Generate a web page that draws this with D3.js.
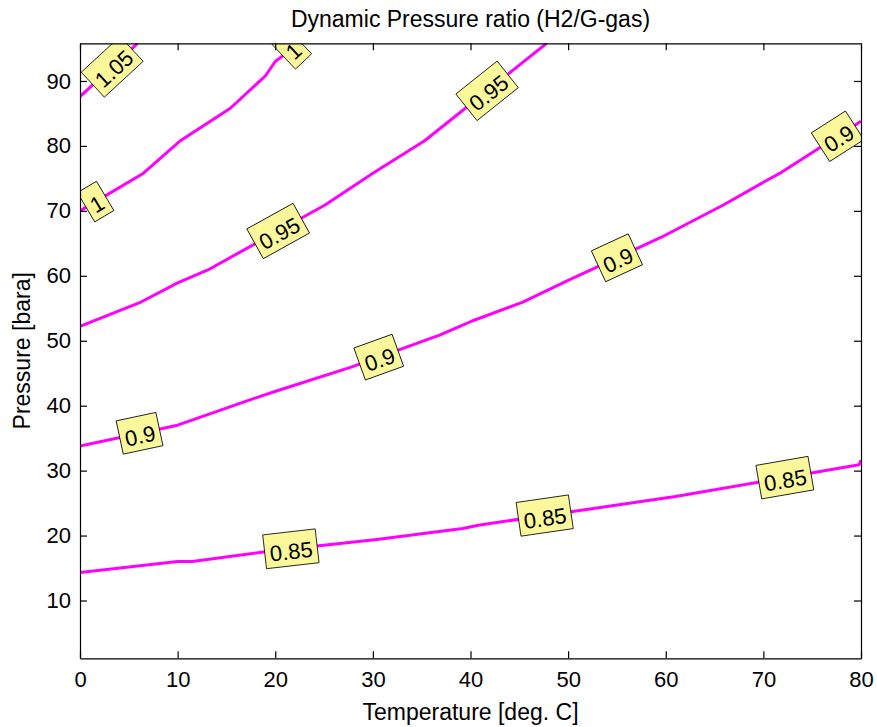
<!DOCTYPE html>
<html>
<head>
<meta charset="utf-8">
<script src="https://cdn.jsdelivr.net/npm/d3@7"></script>
<style>
  html, body { margin: 0; padding: 0; background: #fff; }
  svg { display: block; font-family: "Liberation Sans", Arial, sans-serif; }
</style>
</head>
<body>
<svg id="chart" width="877" height="727"></svg>
<script>
// ---- data ----
const titleText = "Dynamic Pressure ratio (H2/G-gas)";
const xLabelText = "Temperature [deg. C]";
const yLabelText = "Pressure [bara]";

const xTicks = [0, 10, 20, 30, 40, 50, 60, 70, 80];
const yTicks = [10, 20, 30, 40, 50, 60, 70, 80, 90];
const xDomain = [0, 80];
const yDomain = [1.1, 95.8];

const levels = [0.85, 0.9, 0.95, 1, 1.05];
const levelNames = ["0.85", "0.9", "0.95", "1", "1.05"];

const t085 = [0, 10, 11.5, 20, 30.4, 39.2, 40.8, 61.0, 79.8, 80];
const p085 = [14.3, 16.0, 16.0, 17.7, 19.4, 21.1, 21.6, 26.0, 30.9, 31.6];

const t090 = [0, 10, 17.4, 20.2, 27.7, 36.9, 38.9, 40.1, 45.3, 50.0, 59.5, 65.9, 70.0, 71.7, 80];
const p090 = [33.8, 37.0, 40.9, 42.3, 45.9, 50.9, 52.2, 53.0, 55.9, 59.3, 65.9, 70.9, 74.4, 75.8, 83.8];

const t095 = [0, 6.3, 10, 13.1, 25.1, 30.0, 35.3, 47.8];
const p095 = [52.2, 56.0, 58.9, 60.9, 70.9, 75.8, 80.8, 95.8];

const t100 = [0, 6.5, 10.2, 15.4, 19.0, 20.0, 22.5];
const p100 = [70.0, 75.8, 80.7, 85.8, 90.8, 93.0, 95.8];

const t105 = [0, 5.9];
const p105 = [87.6, 95.8];

// temperatures at which the contour labels sit
const lab085 = [21.6, 47.6, 72.2];
const lab090 = [6.1, 30.6, 55.0, 77.6];
const lab095 = [20.3, 41.7];
const lab100 = [1.6, 21.7];
const lab105 = [3.3];

const lineT = [t085, t090, t095, t100, t105];
const lineP = [p085, p090, p095, p100, p105];
const labelT = [lab085, lab090, lab095, lab100, lab105];

// ---- layout ----
const svg = d3.select("#chart");
const mLeft = 80, mRight = 861, mTop = 43.3, mBottom = 658.3;
const x = d3.scaleLinear().domain(xDomain).range([mLeft, mRight]);
const y = d3.scaleLinear().domain(yDomain).range([mBottom, mTop]);

const tickFont = 22, clabelFont = 22, labelFont = 23;

svg.append("defs").append("clipPath").attr("id", "plotclip")
  .append("rect").attr("x", mLeft).attr("y", mTop)
  .attr("width", mRight - mLeft).attr("height", mBottom - mTop);

svg.append("rect").attr("x", mLeft).attr("y", mTop)
  .attr("width", mRight - mLeft).attr("height", mBottom - mTop).attr("fill", "#fff");

const plot = svg.append("g").attr("clip-path", "url(#plotclip)");

function interp(ts, ps, t) {
  if (t <= ts[0]) return ps[0];
  for (let i = 1; i < ts.length; i++) {
    if (t <= ts[i]) {
      const f = (t - ts[i - 1]) / (ts[i] - ts[i - 1]);
      return ps[i - 1] + f * (ps[i] - ps[i - 1]);
    }
  }
  return ps[ps.length - 1];
}

const line = d3.line().x(d => x(d[0])).y(d => y(d[1]));

lineT.forEach((ts, k) => {
  const pts = ts.map((t, i) => [t, lineP[k][i]]);
  plot.append("path").datum(pts)
    .attr("d", line)
    .attr("fill", "none")
    .attr("stroke", "#ff00ff")
    .attr("stroke-width", 3)
    .attr("stroke-linejoin", "round");
});

// contour labels
const labelsG = plot.append("g");
lineT.forEach((ts, k) => {
  const ps = lineP[k];
  labelT[k].forEach(t => {
    const p = interp(ts, ps, t);
    const cx = x(t), cy = y(p);
    const t0 = Math.max(ts[0], t - 3), t1 = Math.min(ts[ts.length - 1], t + 3);
    const dx = x(t1) - x(t0), dy = y(interp(ts, ps, t1)) - y(interp(ts, ps, t0));
    const ang = Math.atan2(dy, dx) * 180 / Math.PI;
    const g = labelsG.append("g").attr("transform", `translate(${cx},${cy}) rotate(${ang})`);
    const txt = g.append("text")
      .attr("text-anchor", "middle")
      .attr("y", 2.5)
      .attr("dy", "0.36em")
      .attr("font-size", clabelFont)
      .attr("fill", "#000")
      .text(levelNames[k]);
    const w = txt.node().getComputedTextLength();
    const padX = 5, h = 34;
    g.insert("rect", "text")
      .attr("x", -w / 2 - padX).attr("y", -h / 2)
      .attr("width", w + 2 * padX).attr("height", h)
      .attr("fill", "#fbf89c")
      .attr("stroke", "#000")
      .attr("stroke-width", 0.8);
  });
});

// axes
const tickLen = 7;
function styleAxis(g) {
  g.selectAll("path.domain").attr("stroke", "#000").attr("stroke-width", 1.2);
  g.selectAll(".tick line").attr("stroke", "#000").attr("stroke-width", 1.2);
  g.selectAll(".tick text").attr("fill", "#000").attr("font-size", tickFont)
    .attr("font-family", "'Liberation Sans', Arial, sans-serif");
}

svg.append("g").attr("transform", `translate(0,${mBottom})`)
  .call(d3.axisBottom(x).tickValues(xTicks).tickSizeInner(-tickLen).tickSizeOuter(0).tickPadding(13).tickFormat(d3.format("d")))
  .call(styleAxis);
svg.append("g").attr("transform", `translate(0,${mTop})`)
  .call(d3.axisTop(x).tickValues(xTicks).tickSizeInner(-tickLen).tickSizeOuter(0).tickFormat(""))
  .call(styleAxis);
svg.append("g").attr("transform", `translate(${mLeft},0)`)
  .call(d3.axisLeft(y).tickValues(yTicks).tickSizeInner(-tickLen).tickSizeOuter(0).tickPadding(9).tickFormat(d3.format("d")))
  .call(styleAxis);
svg.append("g").attr("transform", `translate(${mRight},0)`)
  .call(d3.axisRight(y).tickValues(yTicks).tickSizeInner(-tickLen).tickSizeOuter(0).tickFormat(""))
  .call(styleAxis);

// title and axis labels
svg.append("text")
  .attr("x", (mLeft + mRight) / 2).attr("y", 27)
  .attr("text-anchor", "middle").attr("font-size", labelFont).attr("fill", "#000")
  .text(titleText);
svg.append("text")
  .attr("x", (mLeft + mRight) / 2).attr("y", 720)
  .attr("text-anchor", "middle").attr("font-size", labelFont).attr("fill", "#000")
  .text(xLabelText);
svg.append("text")
  .attr("transform", `translate(30,${(mTop + mBottom) / 2}) rotate(-90)`)
  .attr("text-anchor", "middle").attr("font-size", labelFont).attr("fill", "#000")
  .text(yLabelText);
</script>
</body>
</html>
